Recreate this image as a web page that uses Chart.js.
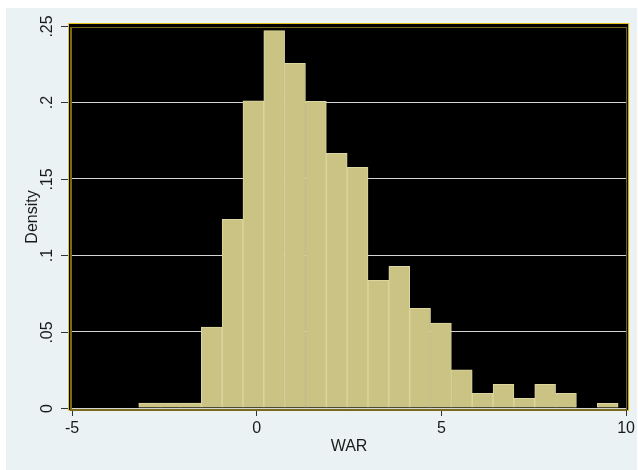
<!DOCTYPE html>
<html>
<head>
<meta charset="utf-8">
<script src="https://cdn.jsdelivr.net/npm/chart.js@4"></script>
<style>
  html, body { margin: 0; padding: 0; background: #fff; }
  #wrap { width: 638px; height: 470px; }
</style>
</head>
<body>
<div id="wrap"><canvas id="warChart" width="638" height="470"></canvas></div>
<script>
// bin centres (WAR) and density per bin
const binCenters = [
  -2.911, -2.347, -1.783, -1.218, -0.654, -0.09, 0.474, 1.038, 1.603, 2.167,
  2.731, 3.295, 3.859, 4.424, 4.988, 5.552, 6.116, 6.681, 7.245, 7.809,
  8.373, 8.937, 9.502,
];
const density = [
  0.0033, 0.0033, 0.0033, 0.053, 0.1235, 0.201, 0.247, 0.2256, 0.2007, 0.1667,
  0.1575, 0.0836, 0.0927, 0.0652, 0.0556, 0.0249, 0.0096, 0.0155, 0.0063, 0.0155,
  0.0096, 0, 0.0031,
];
const yTickLabels = ["0", ".05", ".1", ".15", ".2", ".25"];

const FONT = "'Liberation Sans', Arial, Helvetica, sans-serif";
const TEXT = "#1a1a1a";

const stataFrame = {
  id: "stataFrame",
  beforeDraw(chart) {
    const { ctx, chartArea: ca } = chart;
    ctx.save();
    ctx.fillStyle = "#ffffff";
    ctx.fillRect(0, 0, chart.width, chart.height);
    ctx.fillStyle = "#eaf2f3";
    ctx.fillRect(6, 8, chart.width - 7, chart.height - 8);
    const L = ca.left - 4, T = ca.top - 3, R = ca.right + 3, B = ca.bottom + 3;
    ctx.fillStyle = "#e8c21c";
    ctx.fillRect(L, T, R - L, B - T);
    ctx.fillStyle = "#000000";
    ctx.fillRect(L + 1, T + 1, R - L - 2, B - T - 2);
    ctx.restore();
  },
  afterDraw(chart) {
    const { ctx, chartArea: ca, scales } = chart;
    const L = ca.left - 4, T = ca.top - 3, R = ca.right + 3, B = ca.bottom + 3;
    ctx.save();
    // inner olive outline
    ctx.fillStyle = "#7a6a1a";
    ctx.fillRect(L + 2, T + 4, 2, B - T - 5);
    ctx.fillRect(L + 2, T + 4, R - L - 5, 1);
    ctx.fillRect(R - 3, T + 4, 1, B - T - 5);
    ctx.fillRect(L + 2, B - 2, R - L - 5, 2);

    // y ticks + rotated labels
    const y = scales.y;
    ctx.strokeStyle = "#333";
    ctx.lineWidth = 1;
    ctx.fillStyle = TEXT;
    ctx.font = "16px " + FONT;
    ctx.textAlign = "center";
    ctx.textBaseline = "middle";
    y.ticks.forEach((t, i) => {
      const py = Math.round(y.getPixelForValue(t.value)) + 0.5;
      ctx.beginPath();
      ctx.moveTo(L - 7, py);
      ctx.lineTo(L, py);
      ctx.stroke();
      ctx.save();
      ctx.translate(L - 20, py);
      ctx.rotate(-Math.PI / 2);
      ctx.fillText(yTickLabels[i], 0, 0);
      ctx.restore();
    });
    ctx.restore();
  },
};

const ctx = document.getElementById("warChart").getContext("2d");

new Chart(ctx, {
  type: "bar",
  data: {
    datasets: [
      {
        label: "Density",
        data: binCenters.map((c, i) => ({ x: c, y: density[i] })),
        backgroundColor: "#cac384",
        borderColor: "#ddd79f",
        borderWidth: 1,
        barPercentage: 1,
        categoryPercentage: 1,
      },
    ],
  },
  options: {
    responsive: false,
    animation: false,
    layout: { padding: { top: 26, right: 10, left: 0, bottom: 0 } },
    plugins: { legend: { display: false }, tooltip: { enabled: false } },
    scales: {
      x: {
        type: "linear",
        min: -5,
        max: 10,
        offset: false,
        border: { display: false },
        grid: {
          offset: false,
          color: "rgba(0,0,0,0)",
          tickColor: "#333",
          tickLength: 8,
        },
        ticks: {
          stepSize: 5,
          color: TEXT,
          padding: 3,
          maxRotation: 0,
          font: { family: FONT, size: 16 },
        },
        title: {
          display: true,
          text: "WAR",
          color: TEXT,
          font: { family: FONT, size: 16 },
          padding: { top: 0, bottom: 14 },
        },
        afterFit(scale) {
          scale.height = 62;
        },
      },
      y: {
        min: 0,
        max: 0.25,
        border: { display: false },
        grid: {
          drawTicks: false,
          lineWidth: 1,
          color: (c) =>
            c.tick && c.tick.value > 0.24 ? "rgba(0,0,0,0)" : "#d4d4d4",
        },
        ticks: { display: false, stepSize: 0.05 },
        title: {
          display: true,
          text: "Density",
          color: TEXT,
          font: { family: FONT, size: 16 },
          padding: { top: 23, bottom: 0 },
        },
        afterFit(scale) {
          scale.width = 72;
        },
      },
    },
  },
  plugins: [stataFrame],
});
</script>
</body>
</html>
